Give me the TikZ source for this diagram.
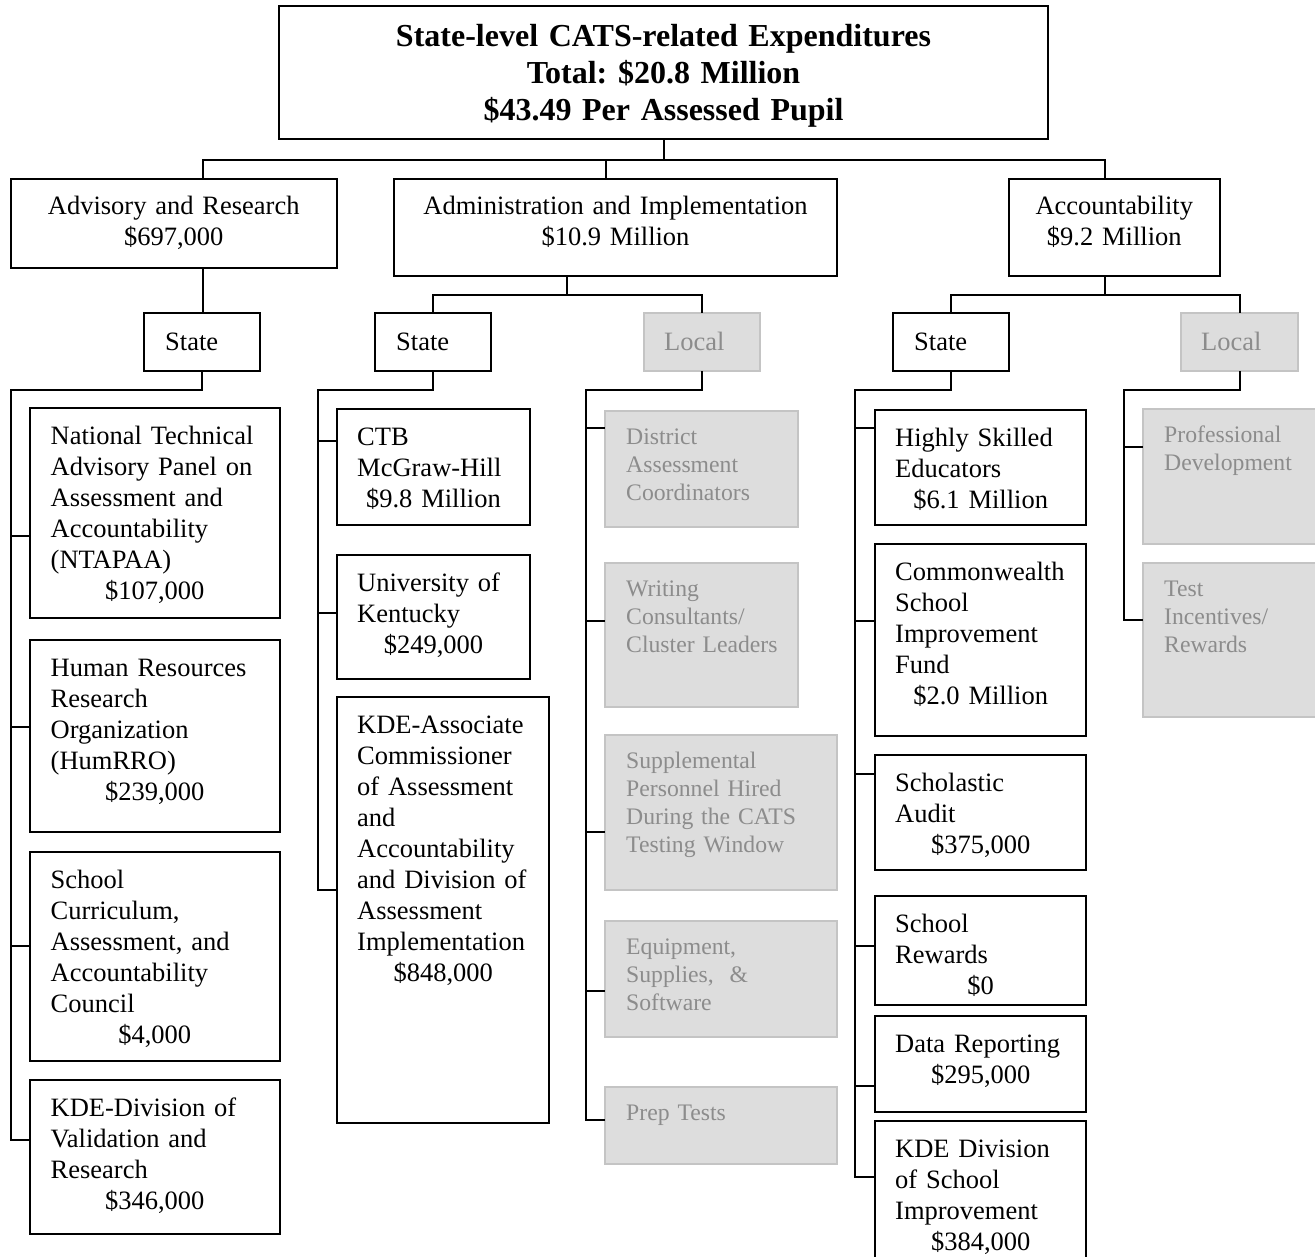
\documentclass[tikz,border=0pt]{standalone}
\usepackage{fontspec}
\setmainfont{Liberation Serif}
\frenchspacing
\definecolor{gfill}{HTML}{DDDDDD}
\definecolor{gborder}{HTML}{C4C4C4}
\definecolor{gtext}{HTML}{8C8C8C}
\newcommand\bodyf{\fontsize{26.5bp}{31bp}\selectfont}
\newcommand\greyf{\fontsize{23.7bp}{28bp}\selectfont}
\newcommand\titlef{\fontsize{32bp}{37bp}\selectfont\bfseries}
\newcommand\amt[2]{\makebox[#1bp]{#2}}
\newcommand\mk[6]{\node[#2,minimum width={(#5-#3)*1bp},minimum height={(#6-#4)*1bp}] (#1) at (#3,#4) {};}
\begin{document}
\begin{tikzpicture}[x=1bp,y=-1bp,
 ln/.style={line width=2bp,draw=black},
 bbox/.style={draw=black,line width=2bp,fill=white,inner sep=0pt,outer sep=0pt,anchor=north west},
 gbox/.style={draw=gborder,line width=2bp,fill=gfill,inner sep=0pt,outer sep=0pt,anchor=north west},
 btxt/.style={anchor=north west,inner sep=0pt,align=left,font=\bodyf\frenchspacing,text width=#1},
 gtxt/.style={anchor=north west,inner sep=0pt,align=left,font=\greyf\frenchspacing,text=gtext,text width=#1},
 ctxt/.style={anchor=north,inner sep=0pt,align=center,font=\bodyf\frenchspacing,text width=#1},
 lbl/.style={anchor=base west,inner sep=0pt,font=\bodyf}
]
\useasboundingbox (0,0) rectangle (1315,1256);

% ---------- boxes ----------
\mk{top}{bbox}{279}{6}{1048}{139}
\mk{adv}{bbox}{10.5}{179}{337}{268}
\mk{adm}{bbox}{394}{179}{837}{276}
\mk{acc}{bbox}{1008.5}{179}{1220}{276}
\mk{s1}{bbox}{144}{313}{260}{371}
\mk{s2}{bbox}{375}{313}{491}{371}
\mk{l1}{gbox}{644}{313}{760}{371}
\mk{s3}{bbox}{893}{313}{1009}{371}
\mk{l2}{gbox}{1181}{313}{1298}{371}

\mk{a1}{bbox}{29.5}{408}{279.5}{618}
\mk{a2}{bbox}{29.5}{640}{279.5}{832}
\mk{a3}{bbox}{29.5}{852}{279.5}{1061}
\mk{a4}{bbox}{29.5}{1080}{279.5}{1234}

\mk{b1}{bbox}{337}{409}{529.5}{525}
\mk{b2}{bbox}{337}{555}{529.5}{679}
\mk{b3}{bbox}{337}{697}{549}{1123}

\mk{c1}{gbox}{605}{411}{798}{527}
\mk{c2}{gbox}{605}{563}{798}{707}
\mk{c3}{gbox}{605}{735}{837}{890}
\mk{c4}{gbox}{605}{921}{837}{1037}
\mk{c5}{gbox}{605}{1087}{837}{1164}

\mk{d1}{bbox}{875}{410}{1086}{525}
\mk{d2}{bbox}{875}{544}{1086}{736}
\mk{d3}{bbox}{875}{755}{1086}{870}
\mk{d4}{bbox}{875}{896}{1086}{1005}
\mk{d5}{bbox}{875}{1016}{1086}{1112}
\mk{d6}{bbox}{875}{1121}{1086}{1275}

\mk{e1}{gbox}{1143}{409}{1335}{544}
\mk{e2}{gbox}{1143}{563}{1335}{717}

% ---------- texts ----------
\node[ctxt=760bp,font=\titlef\frenchspacing] (toptxt) at ([shift={(0,14.6)}]top.north)
 {\strut State-level CATS-related Expenditures\\Total: \$20.8 Million\\\$43.49 Per Assessed Pupil};
\node[ctxt=320bp] (advtxt) at ([shift={(0,13.3)}]adv.north) {\strut Advisory and Research\\\$697,000};
\node[ctxt=430bp] (admtxt) at ([shift={(0,13.3)}]adm.north) {\strut Administration and Implementation\\\$10.9 Million};
\node[ctxt=205bp] (acctxt) at ([shift={(0,13.3)}]acc.north) {\strut Accountability\\\$9.2 Million};

\node[lbl] (s1t) at ([shift={(21,8)}]s1.west) {State};
\node[lbl] (s2t) at ([shift={(21,8)}]s2.west) {State};
\node[lbl,text=gtext] (l1t) at ([shift={(20,8)}]l1.west) {Local};
\node[lbl] (s3t) at ([shift={(21,8)}]s3.west) {State};
\node[lbl,text=gtext] (l2t) at ([shift={(20,8)}]l2.west) {Local};

\node[btxt=227bp] (a1t) at ([shift={(21,14.3)}]a1.north west)
 {\strut National Technical\\Advisory Panel on\\Assessment and\\Accountability\\(NTAPAA)\\\amt{208}{\$107,000}};
\node[btxt=227bp] (a2t) at ([shift={(21,14.3)}]a2.north west)
 {\strut Human Resources\\Research\\Organization\\(HumRRO)\\\amt{208}{\$239,000}};
\node[btxt=227bp] (a3t) at ([shift={(21,14.3)}]a3.north west)
 {\strut School\\Curriculum,\\Assessment, and\\Accountability\\Council\\\amt{208}{\$4,000}};
\node[btxt=227bp] (a4t) at ([shift={(21,14.3)}]a4.north west)
 {\strut KDE-Division of\\Validation and\\Research\\\amt{208}{\$346,000}};

\node[btxt=170bp] (b1t) at ([shift={(20,14.3)}]b1.north west)
 {\strut CTB\\McGraw-Hill\\\amt{152.5}{\$9.8 Million}};
\node[btxt=170bp] (b2t) at ([shift={(20,14.3)}]b2.north west)
 {\strut University of\\Kentucky\\\amt{152.5}{\$249,000}};
\node[btxt=190bp] (b3t) at ([shift={(20,14.3)}]b3.north west)
 {\strut KDE-Associate\\Commissioner\\of Assessment\\and\\Accountability\\and Division of\\Assessment\\Implementation\\\amt{172}{\$848,000}};

\node[gtxt=170bp] (c1t) at ([shift={(21,13.4)}]c1.north west) {\strut District\\Assessment\\Coordinators};
\node[gtxt=170bp] (c2t) at ([shift={(21,13.4)}]c2.north west) {\strut Writing\\Consultants/\\Cluster Leaders};
\node[gtxt=210bp] (c3t) at ([shift={(21,13.4)}]c3.north west) {\strut Supplemental\\Personnel Hired\\During the CATS\\Testing Window};
\node[gtxt=210bp] (c4t) at ([shift={(21,13.4)}]c4.north west) {\strut Equipment,\\Supplies,\ \ \&\\Software};
\node[gtxt=210bp] (c5t) at ([shift={(21,13.4)}]c5.north west) {\strut Prep Tests};

\node[btxt=189bp] (d1t) at ([shift={(20,14.3)}]d1.north west)
 {\strut Highly Skilled\\Educators\\\amt{171}{\$6.1 Million}};
\node[btxt=189bp] (d2t) at ([shift={(20,14.3)}]d2.north west)
 {\strut Commonwealth\\School\\Improvement\\Fund\\\amt{171}{\$2.0 Million}};
\node[btxt=189bp] (d3t) at ([shift={(20,14.3)}]d3.north west)
 {\strut Scholastic\\Audit\\\amt{171}{\$375,000}};
\node[btxt=189bp] (d4t) at ([shift={(20,14.3)}]d4.north west)
 {\strut School\\Rewards\\\amt{171}{\$0}};
\node[btxt=189bp] (d5t) at ([shift={(20,14.3)}]d5.north west)
 {\strut Data Reporting\\\amt{171}{\$295,000}};
\node[btxt=189bp] (d6t) at ([shift={(20,14.3)}]d6.north west)
 {\strut KDE Division\\of School\\Improvement\\\amt{171}{\$384,000}};

\node[gtxt=165bp] (e1t) at ([shift={(21,13.4)}]e1.north west) {\strut Professional\\Development};
\node[gtxt=165bp] (e2t) at ([shift={(21,13.4)}]e2.north west) {\strut Test\\Incentives/\\Rewards};

% ---------- connectors ----------
\coordinate (bl) at (203,160);
\coordinate (bm) at (606,160);
\coordinate (br) at (1105,160);
\draw[ln] (top.south) -- (top.south |- bl);
\draw[ln] (bl |- adv.north) |- (br) -- (br |- acc.north);
\draw[ln] (bm) -- (bm |- adm.north);
\draw[ln] (bl |- adv.south) -- (bl |- s1.north);

\coordinate (cm) at (567,295);
\draw[ln] (cm |- adm.south) -- (cm);
\draw[ln] (s2.north) |- (l1.north |- cm) -- (l1.north);
\coordinate (dm) at (1105,295);
\draw[ln] (dm |- acc.south) -- (dm);
\draw[ln] (s3.north) |- (l2.north |- dm) -- (l2.north);

\coordinate (sp1) at (10.5,390);
\draw[ln] (s1.south) |- (sp1) |- (a4.west |- 0,1140);
\draw[ln] (sp1 |- 0,536) -- (a1.west |- 0,536);
\draw[ln] (sp1 |- 0,727) -- (a2.west |- 0,727);
\draw[ln] (sp1 |- 0,946) -- (a3.west |- 0,946);

\coordinate (sp2) at (318,390);
\draw[ln] (s2.south) |- (sp2) |- (b3.west |- 0,890);
\draw[ln] (sp2 |- 0,441) -- (b1.west |- 0,441);
\draw[ln] (sp2 |- 0,613) -- (b2.west |- 0,613);

\coordinate (sp3) at (586,390);
\draw[ln] (l1.south) |- (sp3) |- (c5.west |- 0,1120);
\draw[ln] (sp3 |- 0,428) -- (c1.west |- 0,428);
\draw[ln] (sp3 |- 0,621) -- (c2.west |- 0,621);
\draw[ln] (sp3 |- 0,832) -- (c3.west |- 0,832);
\draw[ln] (sp3 |- 0,991) -- (c4.west |- 0,991);

\coordinate (sp4) at (855,390);
\draw[ln] (s3.south) |- (sp4) |- (d6.west |- 0,1177);
\draw[ln] (sp4 |- 0,428) -- (d1.west |- 0,428);
\draw[ln] (sp4 |- 0,621) -- (d2.west |- 0,621);
\draw[ln] (sp4 |- 0,774) -- (d3.west |- 0,774);
\draw[ln] (sp4 |- 0,946) -- (d4.west |- 0,946);
\draw[ln] (sp4 |- 0,1086) -- (d5.west |- 0,1086);

\coordinate (sp5) at (1124,390);
\draw[ln] (l2.south) |- (sp5) |- (e2.west |- 0,620);
\draw[ln] (sp5 |- 0,447) -- (e1.west |- 0,447);
\end{tikzpicture}
\end{document}
